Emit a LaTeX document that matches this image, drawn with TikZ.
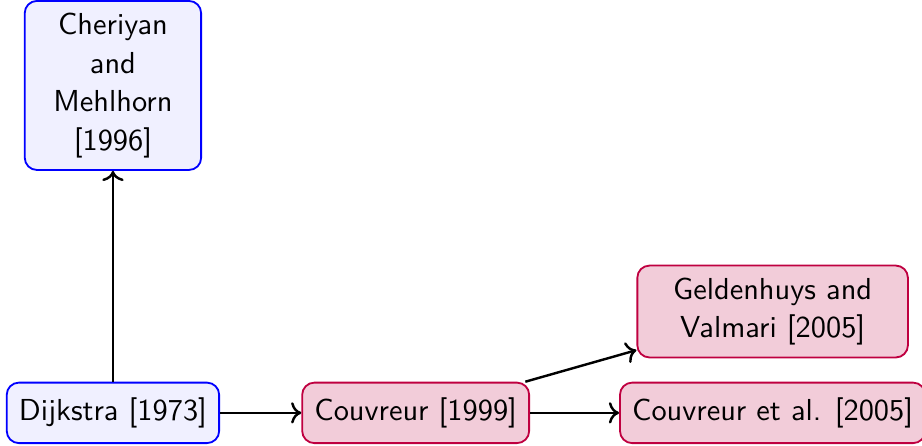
\documentclass[tikz,border=0pt]{standalone}
\usepackage{tikz}
\usetikzlibrary{arrows.meta,positioning}

\begin{document}
\begin{tikzpicture}[
  font=\sffamily\fontsize{10pt}{12.7pt}\selectfont,
  node distance=0.95cm,
  paper/.style={draw, semithick, rounded corners=4pt, inner sep=4pt, minimum height=0.7cm, align=center},
  classic/.style={paper, draw=blue, fill=blue!6},
  variant/.style={paper, draw=purple, fill=purple!20},
  arrow/.style={-{To}, thick}
]
  \useasboundingbox (0,0) rectangle (10.67,5.16);
  \node[classic] (dijkstra) at (1.307,0.382) {Dijkstra [1973]};
  \node[classic, text width=1.76cm, above=2.44cm of dijkstra] (cheriyan) {Cheriyan\\and\\Mehlhorn\\{[1996]}};
  \node[variant, right=0.94cm of dijkstra] (couv99) {Couvreur [1999]};
  \node[variant, right=1.03cm of couv99] (couv05) {Couvreur et al. [2005]};
  \node[variant, text width=2.85cm, above=0.27cm of couv05] (geld) {Geldenhuys and\\Valmari [2005]};

  \draw[arrow] (dijkstra) -- (cheriyan);
  \draw[arrow] (dijkstra) -- (couv99);
  \draw[arrow] (couv99) -- (couv05);
  \draw[arrow] (couv99) -- (geld);
\end{tikzpicture}
\end{document}
